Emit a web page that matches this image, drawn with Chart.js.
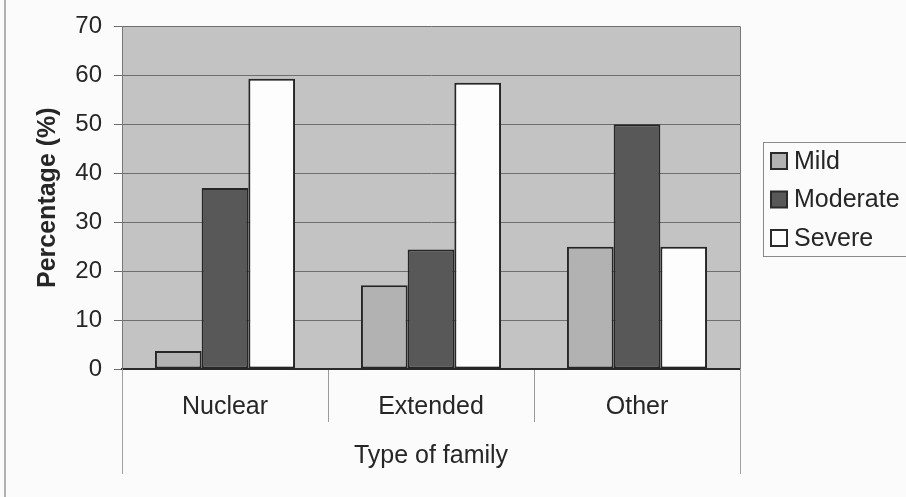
<!DOCTYPE html>
<html>
<head>
<meta charset="utf-8">
<script src="https://cdn.jsdelivr.net/npm/chart.js@4/dist/chart.umd.min.js"></script>
<style>
  html, body { margin: 0; padding: 0; background: #fbfbfb; }
  canvas { display: block; }
</style>
</head>
<body>
<canvas id="c" width="906" height="497"></canvas>
<script>
// Severity of condition by type of family (percent of each family type)
const categories = ['Nuclear', 'Extended', 'Other'];
const seriesNames = ['Mild', 'Moderate', 'Severe'];
const mild = [3.7, 17.1, 25.0];
const moderate = [37.0, 24.4, 50.0];
const severe = [59.3, 58.5, 25.0];
const yTicks = [0, 10, 20, 30, 40, 50, 60, 70];

const FONT = '"Liberation Sans", Arial, sans-serif';
const TEXT = '#262626';

// Gray plot background, page edge line, right border of plot area
const frame = {
  id: 'frame',
  beforeDraw(chart) {
    const { ctx, chartArea: a } = chart;
    ctx.save();
    ctx.fillStyle = '#fbfbfb';
    ctx.fillRect(0, 0, chart.width, chart.height);
    ctx.fillStyle = '#c3c3c3';
    ctx.fillRect(a.left, a.top, a.right - a.left, a.bottom - a.top);
    ctx.restore();
  },
  afterDraw(chart) {
    const { ctx, chartArea: a } = chart;
    ctx.save();
    ctx.lineWidth = 1;
    // right edge of plot
    ctx.strokeStyle = '#777777';
    ctx.beginPath();
    ctx.moveTo(Math.round(a.right) + 0.5, a.top);
    ctx.lineTo(Math.round(a.right) + 0.5, a.bottom);
    ctx.stroke();
    // outer category dividers run down past the axis title
    ctx.strokeStyle = '#a0a0a0';
    [a.left, a.right].forEach(x => {
      ctx.beginPath();
      ctx.moveTo(Math.round(x) + 0.5, a.bottom);
      ctx.lineTo(Math.round(x) + 0.5, 474);
      ctx.stroke();
    });
    // page edge
    ctx.strokeStyle = '#b0b0b0';
    ctx.lineWidth = 2;
    ctx.beginPath();
    ctx.moveTo(5, 0);
    ctx.lineTo(5, chart.height);
    ctx.stroke();
    ctx.restore();
  }
};

// Boxed legend at the right
const boxedLegend = {
  id: 'boxedLegend',
  afterDraw(chart) {
    const { ctx } = chart;
    const x0 = 763, y0 = 142, w = 160, h = 114;
    ctx.save();
    ctx.fillStyle = '#fbfbfb';
    ctx.fillRect(x0, y0, w, h);
    ctx.strokeStyle = '#8a8a8a';
    ctx.lineWidth = 1;
    ctx.strokeRect(x0 + 0.5, y0 + 0.5, w, h);
    ctx.font = '25px ' + FONT;
    ctx.textBaseline = 'middle';
    ctx.textAlign = 'left';
    chart.data.datasets.forEach((ds, i) => {
      const cy = 161 + i * 38.5;
      ctx.fillStyle = ds.backgroundColor;
      ctx.fillRect(771, cy - 8, 16, 16);
      ctx.strokeStyle = '#2a2a2a';
      ctx.lineWidth = 2;
      ctx.strokeRect(771, cy - 8, 16, 16);
      ctx.fillStyle = TEXT;
      ctx.fillText(ds.label, 794, cy + 1);
    });
    ctx.restore();
  }
};

const barStyle = {
  borderColor: '#262626',
  borderWidth: 2,
  borderSkipped: false,
  categoryPercentage: 0.68,
  barPercentage: 1.0
};

new Chart(document.getElementById('c'), {
  type: 'bar',
  data: {
    labels: categories,
    datasets: [
      Object.assign({ label: seriesNames[0], data: mild, backgroundColor: '#b2b2b2' }, barStyle),
      Object.assign({ label: seriesNames[1], data: moderate, backgroundColor: '#585858' }, barStyle),
      Object.assign({ label: seriesNames[2], data: severe, backgroundColor: '#fdfdfd' }, barStyle)
    ]
  },
  options: {
    responsive: false,
    animation: false,
    devicePixelRatio: 1,
    layout: { padding: { left: 0, right: 166, top: 24, bottom: 0 } },
    plugins: {
      legend: { display: false },
      tooltip: { enabled: false }
    },
    scales: {
      x: {
        afterFit(scale) { scale.height = 128; },
        grid: {
          display: true,
          drawOnChartArea: false,
          drawTicks: true,
          tickLength: 53,
          color: '#9a9a9a',
          lineWidth: 1
        },
        border: { display: true, color: '#2a2a2a', width: 2 },
        ticks: {
          color: TEXT,
          padding: -30,
          font: { family: FONT, size: 25 },
          maxRotation: 0
        },
        title: {
          display: true,
          text: 'Type of family',
          color: TEXT,
          font: { family: FONT, size: 25 },
          padding: { top: 0, bottom: 26 }
        }
      },
      y: {
        min: 0,
        max: 70,
        afterFit(scale) { scale.width = 122; },
        afterBuildTicks(scale) { scale.ticks = yTicks.map(v => ({ value: v })); },
        grid: {
          color: '#6e6e6e',
          lineWidth: 1,
          drawTicks: true,
          tickLength: 8
        },
        border: { display: true, color: '#777777', width: 1 },
        ticks: {
          color: TEXT,
          padding: 12,
          font: { family: FONT, size: 24 }
        },
        title: {
          display: true,
          text: 'Percentage (%)',
          color: TEXT,
          font: { family: FONT, size: 25, weight: 'bold' },
          padding: { top: 33, bottom: 0 }
        }
      }
    }
  },
  plugins: [frame, boxedLegend]
});
</script>
</body>
</html>
